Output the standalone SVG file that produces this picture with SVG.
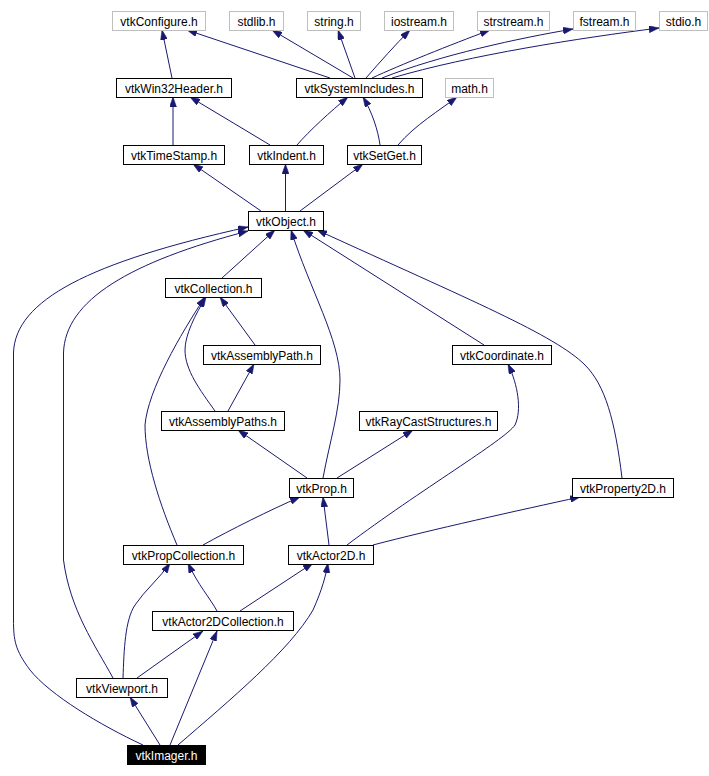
<svg xmlns="http://www.w3.org/2000/svg" width="709" height="776" viewBox="0 0 709 776">
<style>
.n rect{fill:#fff;stroke:#000;stroke-width:1}
.g rect{fill:#fff;stroke:#bfbfbf;stroke-width:1}
.n text,.g text{font-family:"Liberation Sans",Arial,sans-serif;font-size:12px;fill:#000;text-anchor:middle}
.hl rect{fill:#000;stroke:#000}
.hl text{fill:#fff}
#edges path{fill:none;stroke:#191970;stroke-width:1;marker-end:url(#ah)}
</style>
<defs>
<marker id="ah" markerUnits="userSpaceOnUse" markerWidth="10" markerHeight="7" refX="10" refY="3.5" orient="auto">
<path d="M0,0 L10,3.5 L0,7 z" fill="#191970" stroke="#191970" stroke-width="0.5"/>
</marker>
</defs>
<rect width="709" height="776" fill="#fff"/>
<g id="edges">
<path d="M172,78 L162,30"/>
<path d="M330,78 L187,30"/>
<path d="M353,78 L272,30"/>
<path d="M355,78 L338,30"/>
<path d="M366,78 C380,62 395,45 410,30"/>
<path d="M372,78 C400,65 450,45 490,30"/>
<path d="M382,78 C440,55 520,38 573,29"/>
<path d="M392,78 C470,55 580,38 659,28"/>
<path d="M173,145 L173,97"/>
<path d="M270,145 L190,97"/>
<path d="M297,145 C310,130 330,112 348,97"/>
<path d="M380,145 C378,130 372,112 363,97"/>
<path d="M398,145 C415,125 440,110 457,97"/>
<path d="M261,211 L193,164"/>
<path d="M285.5,211 L285.5,164"/>
<path d="M300,211 L363,164"/>
<path d="M222,278 L275,230"/>
<path d="M255,345 L220,297"/>
<path d="M215,411 C200,390 185,370 185,350 C185,335 195,315 206,297"/>
<path d="M177,545 C160,505 145,460 145,425 C148,390 180,335 205,297"/>
<path d="M228,411 L254,364"/>
<path d="M307,478 L238,430"/>
<path d="M337,478 L413,430"/>
<path d="M323,478 C330,440 340,410 340,380 C340,340 310,290 291,230"/>
<path d="M484,345 L303,230"/>
<path d="M622,478 C615,420 605,385 585,365 C555,335 470,300 317,230"/>
<path d="M329,545 L323,497"/>
<path d="M347,545 C420,490 505,440 515,425 C522,410 518,385 508,364"/>
<path d="M373,545 C430,530 520,510 580,497"/>
<path d="M203,545 C230,530 270,510 300,497"/>
<path d="M217,611 C210,598 198,585 188,563"/>
<path d="M240,611 L313,563"/>
<path d="M123,678 C124,650 125,620 135,605 C145,590 160,578 170,563"/>
<path d="M137,678 L203,631"/>
<path d="M113,678 C95,645 70,610 63.5,560 L63.5,353 C65,300 130,262 248,231"/>
<path d="M160,745 L130,697"/>
<path d="M170,745 L217,631"/>
<path d="M178,745 C230,700 290,650 313,610 C322,590 326,575 328,563"/>
<path d="M143,745 C100,725 50,695 30,670 C15,650 13.5,640 13.5,620 L13.5,353 C15,300 90,262 248,227"/>
</g>
<g id="vtkConfigure" class="g"><rect x="112.5" y="11.5" width="93" height="19"/><text x="159" y="25.5">vtkConfigure.h</text></g>
<g id="stdlib" class="g"><rect x="229.5" y="11.5" width="54" height="19"/><text x="256.5" y="25.5">stdlib.h</text></g>
<g id="string" class="g"><rect x="307.5" y="11.5" width="53" height="19"/><text x="334" y="25.5">string.h</text></g>
<g id="iostream" class="g"><rect x="384.5" y="11.5" width="69" height="19"/><text x="419" y="25.5">iostream.h</text></g>
<g id="strstream" class="g"><rect x="477.5" y="11.5" width="72" height="19"/><text x="513.5" y="25.5">strstream.h</text></g>
<g id="fstream" class="g"><rect x="573.5" y="11.5" width="62" height="19"/><text x="604.5" y="25.5">fstream.h</text></g>
<g id="stdio" class="g"><rect x="659.5" y="11.5" width="48" height="19"/><text x="683.5" y="25.5">stdio.h</text></g>
<g id="vtkWin32Header" class="n"><rect x="116.5" y="78.5" width="115" height="19"/><text x="174" y="92.5">vtkWin32Header.h</text></g>
<g id="vtkSystemIncludes" class="n"><rect x="296.5" y="78.5" width="126" height="19"/><text x="359.5" y="92.5">vtkSystemIncludes.h</text></g>
<g id="math" class="g"><rect x="445.5" y="78.5" width="48" height="19"/><text x="469.5" y="92.5">math.h</text></g>
<g id="vtkTimeStamp" class="n"><rect x="123.5" y="145.5" width="101" height="19"/><text x="174" y="159.5">vtkTimeStamp.h</text></g>
<g id="vtkIndent" class="n"><rect x="249.5" y="145.5" width="74" height="19"/><text x="286.5" y="159.5">vtkIndent.h</text></g>
<g id="vtkSetGet" class="n"><rect x="347.5" y="145.5" width="74" height="19"/><text x="384.5" y="159.5">vtkSetGet.h</text></g>
<g id="vtkObject" class="n"><rect x="248.5" y="211.5" width="75" height="19"/><text x="286" y="225.5">vtkObject.h</text></g>
<g id="vtkCollection" class="n"><rect x="165.5" y="278.5" width="96" height="19"/><text x="213.5" y="292.5">vtkCollection.h</text></g>
<g id="vtkAssemblyPath" class="n"><rect x="203.5" y="345.5" width="117" height="19"/><text x="262" y="359.5">vtkAssemblyPath.h</text></g>
<g id="vtkCoordinate" class="n"><rect x="452.5" y="345.5" width="99" height="19"/><text x="502" y="359.5">vtkCoordinate.h</text></g>
<g id="vtkAssemblyPaths" class="n"><rect x="161.5" y="411.5" width="123" height="19"/><text x="223" y="425.5">vtkAssemblyPaths.h</text></g>
<g id="vtkRayCastStructures" class="n"><rect x="359.5" y="411.5" width="138" height="19"/><text x="428.5" y="425.5">vtkRayCastStructures.h</text></g>
<g id="vtkProp" class="n"><rect x="289.5" y="478.5" width="64" height="19"/><text x="321.5" y="492.5">vtkProp.h</text></g>
<g id="vtkProperty2D" class="n"><rect x="572.5" y="478.5" width="101" height="19"/><text x="623" y="492.5">vtkProperty2D.h</text></g>
<g id="vtkPropCollection" class="n"><rect x="123.5" y="545.5" width="120" height="19"/><text x="183.5" y="559.5">vtkPropCollection.h</text></g>
<g id="vtkActor2D" class="n"><rect x="288.5" y="545.5" width="85" height="19"/><text x="331" y="559.5">vtkActor2D.h</text></g>
<g id="vtkActor2DCollection" class="n"><rect x="152.5" y="611.5" width="141" height="19"/><text x="223" y="625.5">vtkActor2DCollection.h</text></g>
<g id="vtkViewport" class="n"><rect x="76.5" y="678.5" width="91" height="19"/><text x="122" y="692.5">vtkViewport.h</text></g>
<g id="vtkImager" class="n hl"><rect x="127.5" y="745.5" width="78" height="19"/><text x="166.5" y="759.5">vtkImager.h</text></g>
</svg>
